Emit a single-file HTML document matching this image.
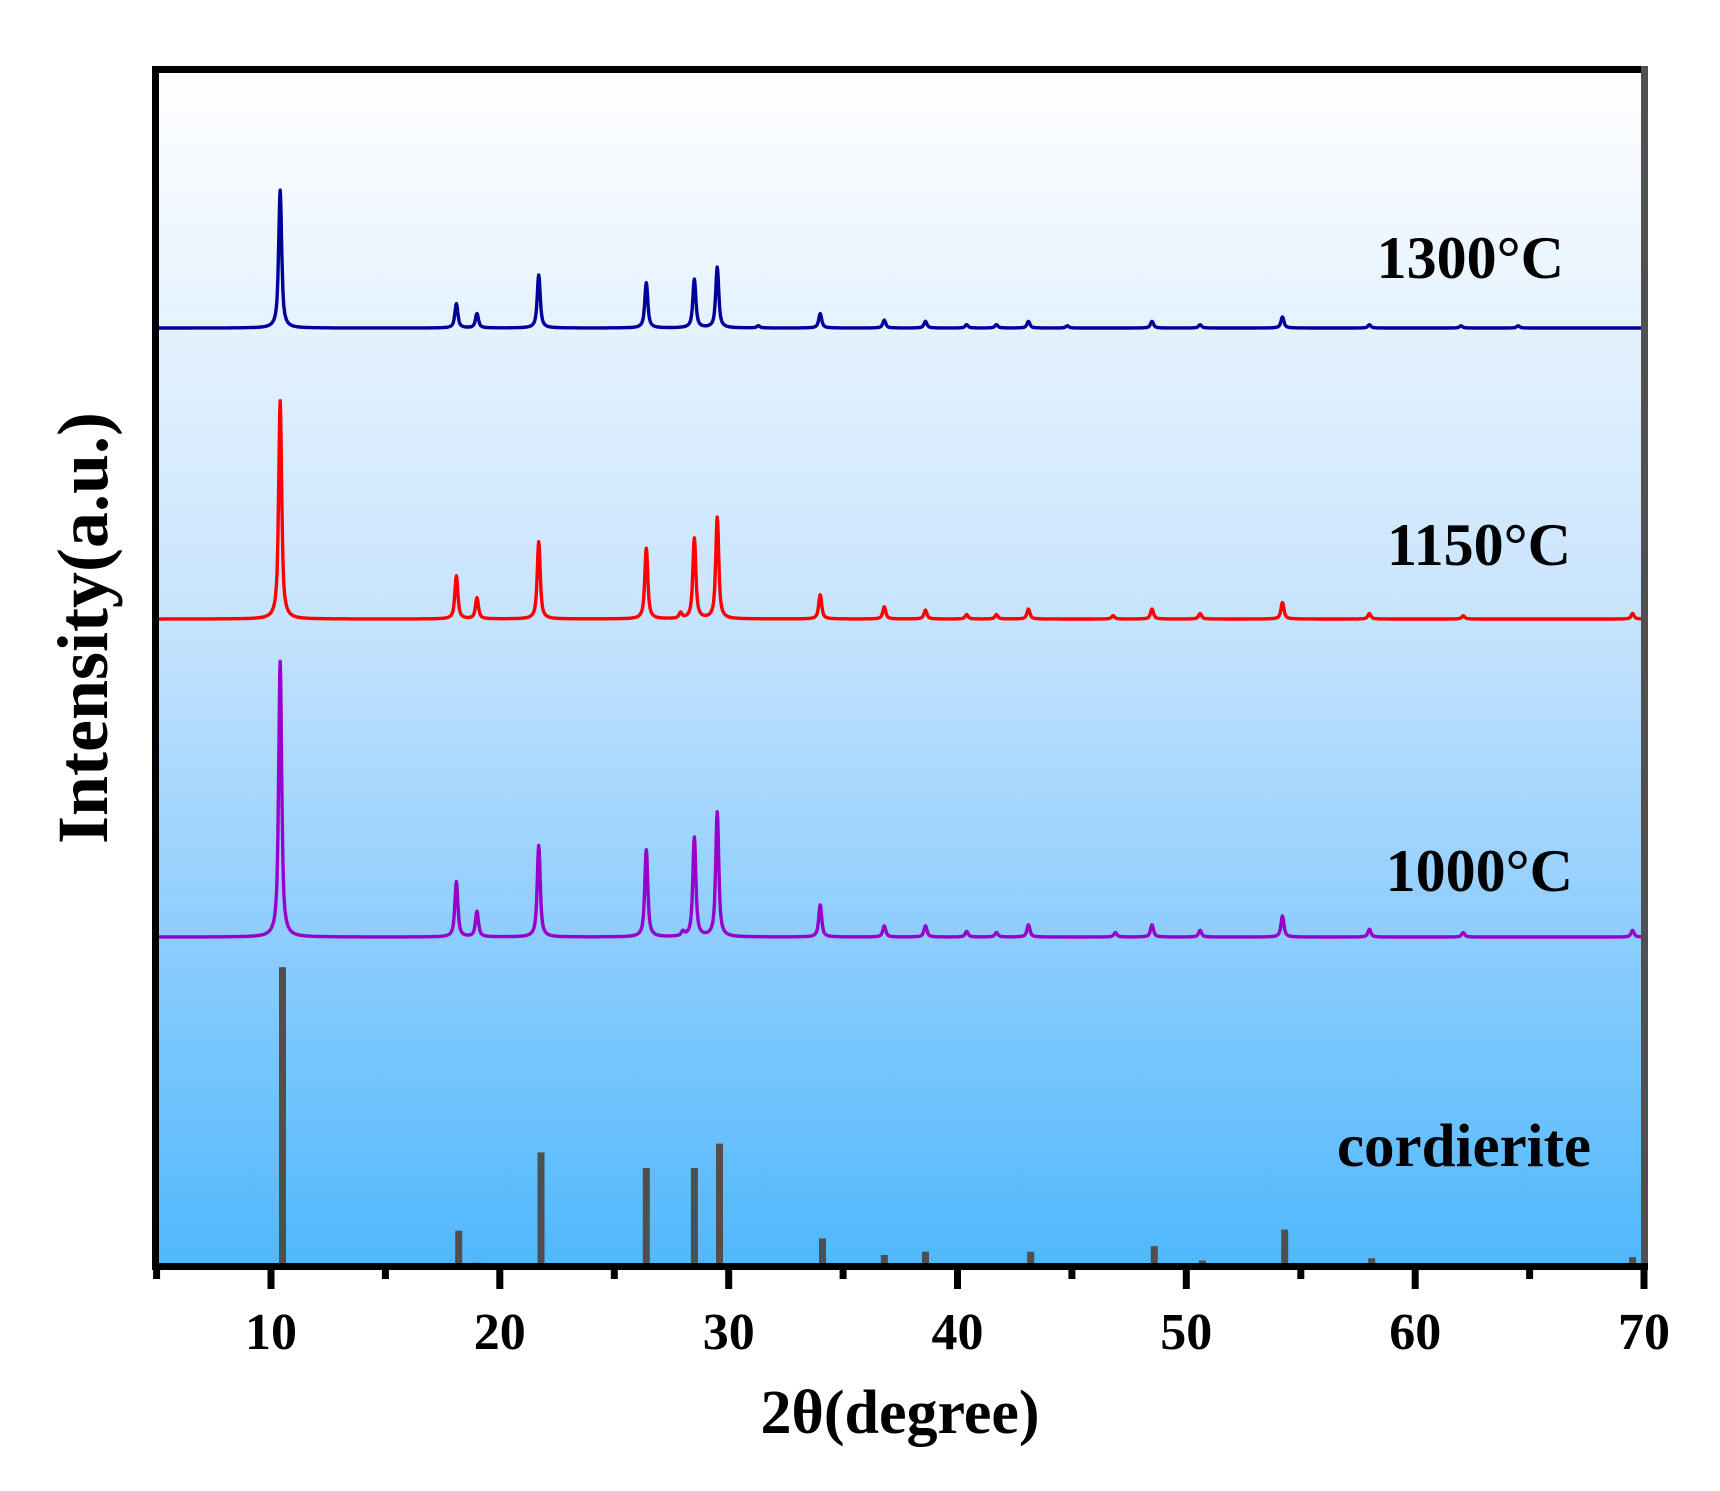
<!DOCTYPE html>
<html><head><meta charset="utf-8"><style>
html,body{margin:0;padding:0;background:#fff;width:1720px;height:1491px;overflow:hidden}
svg text{font-family:"Liberation Serif",serif;font-weight:bold;fill:#000}
</style></head><body>
<svg id="chart" width="1720" height="1491" viewBox="0 0 1720 1491" xmlns="http://www.w3.org/2000/svg">
<defs><linearGradient id="bg" x1="0" y1="0" x2="0" y2="1">
<stop offset="0" stop-color="#ffffff"/><stop offset="0.45" stop-color="#c8e4fd"/><stop offset="0.73" stop-color="#8ccdfd"/><stop offset="1" stop-color="#4fb8fc"/></linearGradient></defs>
<rect x="156" y="70" width="1488" height="1196" fill="url(#bg)"/>
<g id="marks"></g>
<g id="axes"></g>
<text x="1564" y="278" font-size="60" text-anchor="end">1300°C</text>
<text x="1571" y="565" font-size="60" text-anchor="end">1150°C</text>
<text x="1573" y="891" font-size="60" text-anchor="end">1000°C</text>
<text x="1591" y="1166" font-size="61" text-anchor="end">cordierite</text>
<text x="900" y="1433" font-size="62" text-anchor="middle">2θ(degree)</text>
<text transform="translate(107,628) rotate(-90)" font-size="72" text-anchor="middle">Intensity(a.u.)</text>
</svg>
<script>
const xTicks=[10,20,30,40,50,60,70];
const minorTicks=[5,15,25,35,45,55,65];
const pos1300=[10.4,18.1,19.0,21.7,26.4,28.5,29.5,31.3,34.0,36.8,38.6,40.4,41.7,43.1,44.8,48.5,50.6,54.2,58.0,62.0,64.5];
const int1300=[125,22,13,48,41,44,55,2,13,7,6,3,3,6,2,6,3,10,3,2,2];
const pos1150=[10.4,18.1,19.0,21.7,26.4,27.9,28.5,29.5,34.0,36.8,38.6,40.4,41.7,43.1,46.8,48.5,50.6,54.2,58.0,62.1,69.5];
const int1150=[198,39,19,70,64,5,73,92,22,11,8,4,4,9,3,9,5,15,5,3,5];
const pos1000=[10.4,18.1,19.0,21.7,26.4,28.0,28.5,29.5,34.0,36.8,38.6,40.4,41.7,43.1,46.9,48.5,50.6,54.2,58.0,62.1,69.5];
const int1000=[250,50,23,83,79,4,90,113,29,10,10,5,4,11,4,11,6,19,7,4,6];
const posRef=[10.5,18.2,19.0,21.8,26.4,28.5,29.6,34.1,36.8,38.6,43.2,48.6,50.7,54.3,58.1,69.5];
const intRef=[271,32,3,103,89,89,111,25,10,13,13,18,5,33,7,8];

const X0=5,X1=70,PX0=156.6,PX1=1644;
function xs(v){return PX0+(v-X0)*(PX1-PX0)/(X1-X0);}
const K=1.1026;
function ys(base,v){return base-v*K;}
const NS="http://www.w3.org/2000/svg";
const marks=document.getElementById('marks'),axes=document.getElementById('axes');
function pattern(pos,ints,base,color,name){
  let d="";
  for(let t=5.1;t<=69.9;t+=0.02){
    let s=0;
    for(let i=0;i<pos.length;i++){const w=0.085,u=(t-pos[i])/w;s+=ints[i]*(0.7/(1+u*u)+0.3*Math.exp(-u*u));}
    d+=(d?"L":"M")+xs(t).toFixed(1)+","+ys(base,s).toFixed(1);
  }
  const p=document.createElementNS(NS,'path');
  p.setAttribute('d',d);p.setAttribute('fill','none');p.setAttribute('stroke',color);p.setAttribute('stroke-width','3.4');p.setAttribute('stroke-linejoin','round');
  
  
  marks.appendChild(p);
}
pattern(pos1300,int1300,328,'#000099','pattern-1300');
pattern(pos1150,int1150,619,'#ff0000','pattern-1150');
pattern(pos1000,int1000,937,'#9900cc','pattern-1000');
for(let i=0;i<posRef.length;i++){
  const r=document.createElementNS(NS,'rect');
  const h=intRef[i]*K;
  r.setAttribute('x',(xs(posRef[i])-3.5).toFixed(1));r.setAttribute('y',(1266-h).toFixed(1));
  r.setAttribute('width','7');r.setAttribute('height',h.toFixed(1));r.setAttribute('fill','#4f4f4f');
  
  
  marks.appendChild(r);
}
function rect(x,y,w,h,fill,name){
  const r=document.createElementNS(NS,'rect');
  r.setAttribute('x',x);r.setAttribute('y',y);r.setAttribute('width',w);r.setAttribute('height',h);r.setAttribute('fill',fill);
  
  
  axes.appendChild(r);
}
rect(152,66,7,1204,'#000','left-axis');
rect(152,66,1496,7,'#000','top-border');
rect(1641,66,7,1204,'#505050','right-border');
rect(152,1263,1496,7,'#000','x-axis');
xTicks.forEach(v=>{
  const x=xs(v);
  rect((x-3.5).toFixed(1),1266,7,23,'#000','x-major-tick');
  const t=document.createElementNS(NS,'text');
  t.setAttribute('x',x.toFixed(1));t.setAttribute('y',1349);t.setAttribute('font-size','52');t.setAttribute('text-anchor','middle');
  t.textContent=v;
  
  
  axes.appendChild(t);
});
minorTicks.forEach(v=>{
  const x=xs(v);
  rect((x-3.5).toFixed(1),1266,7,13,'#000','x-minor-tick');
});
</script>
</body></html>
